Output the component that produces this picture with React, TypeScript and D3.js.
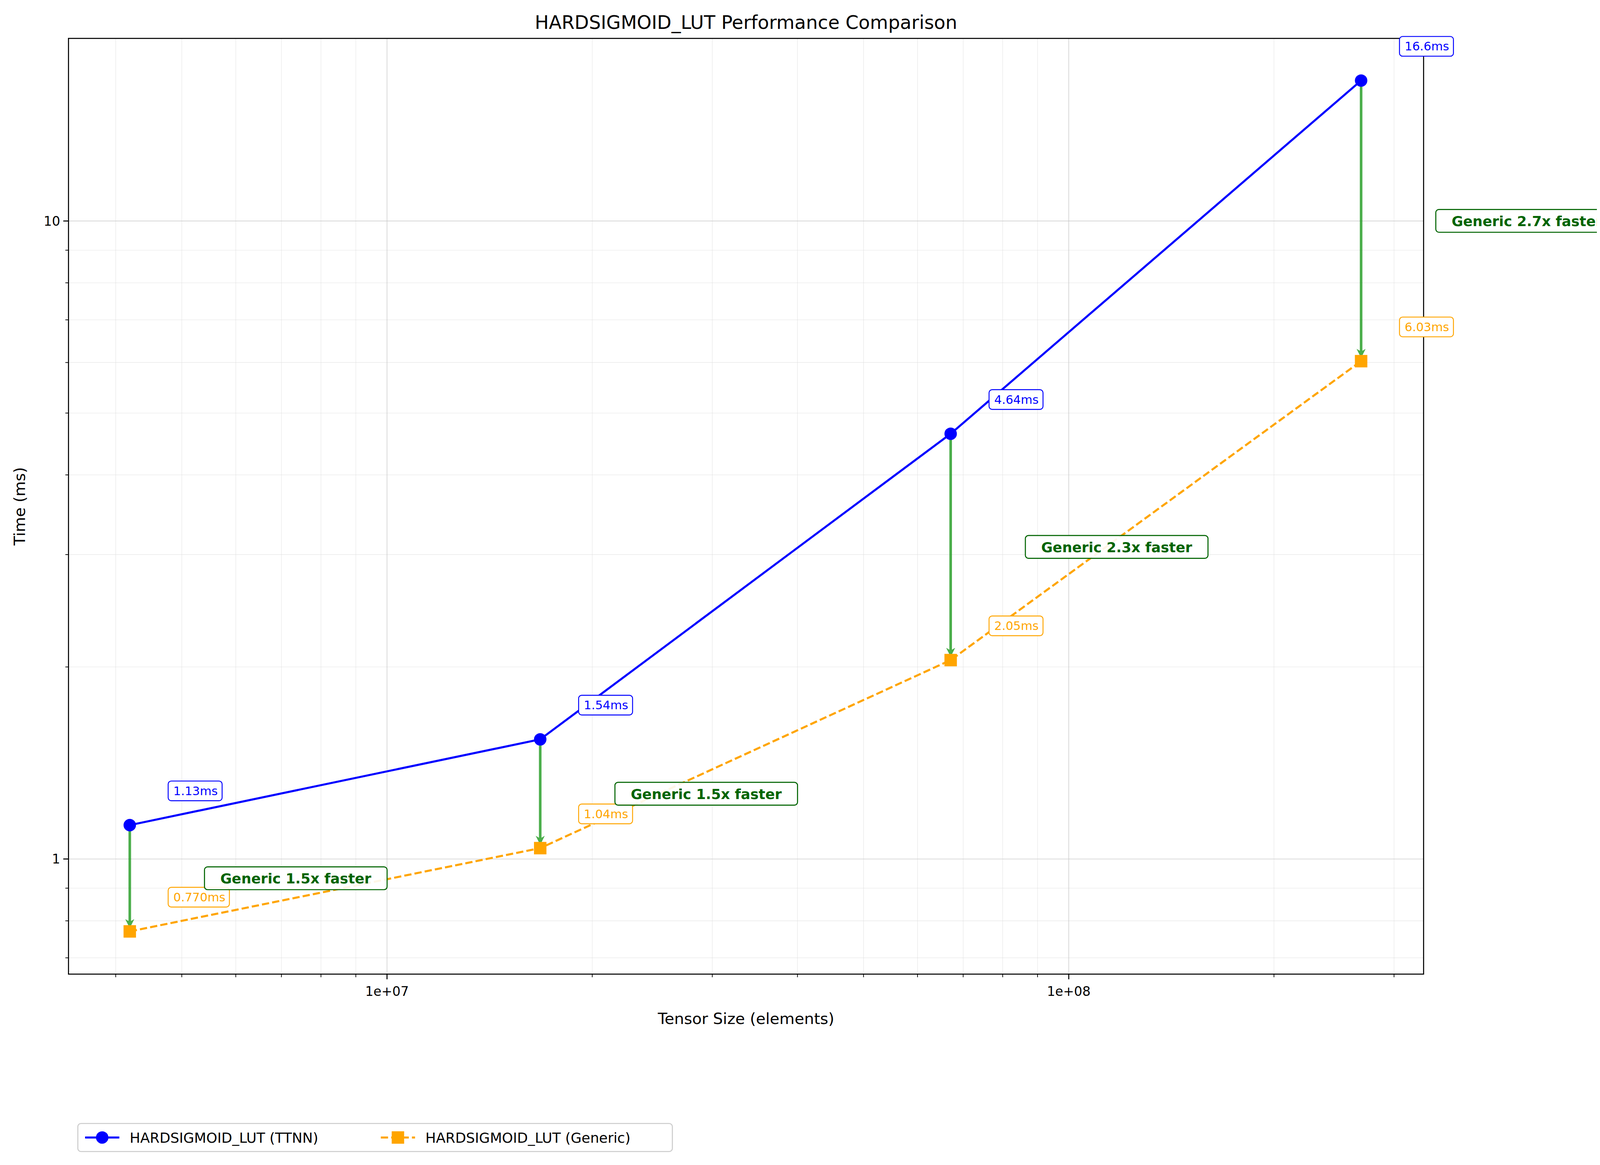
import * as d3 from "d3";

const sizes = [4194304, 16777216, 67108864, 268435456];
const ttnn = [1.13, 1.54, 4.64, 16.6];
const generic = [0.77, 1.04, 2.05, 6.03];
const ttnnLabels = ["1.13ms", "1.54ms", "4.64ms", "16.6ms"];
const genericLabels = ["0.770ms", "1.04ms", "2.05ms", "6.03ms"];
const speedupLabels = ["Generic 1.5x faster", "Generic 1.5x faster", "Generic 2.3x faster", "Generic 2.7x faster"];
const xTickVals = [1e7, 1e8];
const xTickText = ["1e+07", "1e+08"];
const yTickVals = [1, 10];
const yTickText = ["1", "10"];

const W = 1568;
const H = 1123;
const m = { left: 66, right: 1372, top: 37, bottom: 939 };
const font = "DejaVu Sans, sans-serif";
const green = "#2ca02c";

export default function App() {
  const x = d3.scaleLog().domain([3.41e6, 3.315e8]).range([m.left, m.right]);
  const y = d3.scaleLog().domain([0.66, 19.33]).range([m.bottom, m.top]);
  const xMinor: number[] = [];
  for (let e = 6; e <= 8; e++) for (let k = 2; k <= 9; k++) {
    const v = k * 10 ** e;
    if (v > 3.41e6 && v < 3.315e8) xMinor.push(v);
  }
  const yMinor: number[] = [];
  for (let e = -1; e <= 1; e++) for (let k = 2; k <= 9; k++) {
    const v = k * 10 ** e;
    if (v > 0.66 && v < 19.33) yMinor.push(v);
  }
  const line = (vals: number[]) =>
    d3.line<number>().x((_, i) => x(sizes[i])).y((d) => y(d))(vals) ?? "";

  const valueLabel = (px: number, py: number, text: string, color: string, key: string) => {
    const w = text.length * 7 + 10;
    return (
      <g key={key} transform={`translate(${px + 37},${py - 33})`}>
        <rect x={0} y={-9.5} width={w} height={19} rx={3} fill="white" stroke={color} strokeWidth={0.9} />
        <text x={5} y={4} fontSize={11.5} fill={color} fontFamily={font}>{text}</text>
      </g>
    );
  };

  return (
    <svg width={4165} height={2983} viewBox={`0 0 ${W} ${H}`} style={{ display: "block", margin: -8 }}>
      <rect width={W} height={H} fill="white" />
      <defs>
        <marker id="ah" viewBox="0 0 10 10" refX={9} refY={5} markerWidth={3.5} markerHeight={3.5} orient="auto">
          <path d="M0,0 L10,5 L0,10 L3,5 z" fill={green} />
        </marker>
      </defs>
      {xMinor.map((v) => (
        <line key={"xm" + v} x1={x(v)} x2={x(v)} y1={m.top} y2={m.bottom} stroke="#ddd" strokeWidth={0.5} opacity={0.6} />
      ))}
      {yMinor.map((v) => (
        <line key={"ym" + v} x1={m.left} x2={m.right} y1={y(v)} y2={y(v)} stroke="#ddd" strokeWidth={0.5} opacity={0.6} />
      ))}
      {xTickVals.map((v) => (
        <line key={"xg" + v} x1={x(v)} x2={x(v)} y1={m.top} y2={m.bottom} stroke="#ccc" strokeWidth={0.8} opacity={0.7} />
      ))}
      {yTickVals.map((v) => (
        <line key={"yg" + v} x1={m.left} x2={m.right} y1={y(v)} y2={y(v)} stroke="#ccc" strokeWidth={0.8} opacity={0.7} />
      ))}
      <rect x={m.left} y={m.top} width={m.right - m.left} height={m.bottom - m.top} fill="none" stroke="black" strokeWidth={1} />
      {xMinor.map((v) => (
        <line key={"xt" + v} x1={x(v)} x2={x(v)} y1={m.bottom} y2={m.bottom + 3} stroke="black" strokeWidth={0.7} />
      ))}
      {yMinor.map((v) => (
        <line key={"yt" + v} x1={m.left} x2={m.left - 3} y1={y(v)} y2={y(v)} stroke="black" strokeWidth={0.7} />
      ))}
      {xTickVals.map((v, i) => (
        <g key={"xl" + v}>
          <line x1={x(v)} x2={x(v)} y1={m.bottom} y2={m.bottom + 5} stroke="black" />
          <text x={x(v)} y={m.bottom + 21} fontSize={12.5} textAnchor="middle" fontFamily={font}>{xTickText[i]}</text>
        </g>
      ))}
      {yTickVals.map((v, i) => (
        <g key={"yl" + v}>
          <line x1={m.left} x2={m.left - 5} y1={y(v)} y2={y(v)} stroke="black" />
          <text x={m.left - 8} y={y(v) + 4.5} fontSize={12.5} textAnchor="end" fontFamily={font}>{yTickText[i]}</text>
        </g>
      ))}
      <text x={(m.left + m.right) / 2} y={28} fontSize={18} textAnchor="middle" fontFamily={font}>HARDSIGMOID_LUT Performance Comparison</text>
      <text x={(m.left + m.right) / 2} y={987} fontSize={15} textAnchor="middle" fontFamily={font}>Tensor Size (elements)</text>
      <text transform={`translate(24,${(m.top + m.bottom) / 2}) rotate(-90)`} fontSize={15} textAnchor="middle" fontFamily={font}>Time (ms)</text>

      <path d={line(ttnn)} fill="none" stroke="blue" strokeWidth={2} />
      <path d={line(generic)} fill="none" stroke="orange" strokeWidth={2} strokeDasharray="7,3" />
      {sizes.map((s, i) => (
        <line key={"ar" + i} x1={x(s)} x2={x(s)} y1={y(ttnn[i])} y2={y(generic[i]) - 4} stroke={green} strokeWidth={2.5} opacity={0.85} markerEnd="url(#ah)" />
      ))}
      {sizes.map((s, i) => (
        <circle key={"c" + i} cx={x(s)} cy={y(ttnn[i])} r={6} fill="blue" />
      ))}
      {sizes.map((s, i) => (
        <rect key={"sq" + i} x={x(s) - 6} y={y(generic[i]) - 6} width={12} height={12} fill="orange" />
      ))}
      {sizes.map((s, i) => valueLabel(x(s), y(ttnn[i]), ttnnLabels[i], "blue", "tl" + i))}
      {sizes.map((s, i) => valueLabel(x(s), y(generic[i]), genericLabels[i], "orange", "gl" + i))}
      {sizes.map((s, i) => {
        const my = y(Math.sqrt(ttnn[i] * generic[i]));
        const w = 176;
        return (
          <g key={"sp" + i} transform={`translate(${x(s) + 72},${my})`}>
            <rect x={0} y={-11} width={w} height={22} rx={3} fill="white" fillOpacity={0.9} stroke="darkgreen" strokeWidth={1} />
            <text x={w / 2} y={5} fontSize={13.5} fontWeight="bold" fill="darkgreen" textAnchor="middle" fontFamily={font}>{speedupLabels[i]}</text>
          </g>
        );
      })}

      <g transform="translate(75,1083)">
        <rect x={0} y={0} width={573} height={27} rx={3} fill="white" stroke="#ccc" />
        <line x1={7} x2={40} y1={13.5} y2={13.5} stroke="blue" strokeWidth={2} />
        <circle cx={23.5} cy={13.5} r={6} fill="blue" />
        <text x={50} y={18.5} fontSize={13.5} fontFamily={font}>HARDSIGMOID_LUT (TTNN)</text>
        <line x1={292} x2={325} y1={13.5} y2={13.5} stroke="orange" strokeWidth={2} strokeDasharray="7,3" />
        <rect x={302.5} y={7.5} width={12} height={12} fill="orange" />
        <text x={335} y={18.5} fontSize={13.5} fontFamily={font}>HARDSIGMOID_LUT (Generic)</text>
      </g>
    </svg>
  );
}
